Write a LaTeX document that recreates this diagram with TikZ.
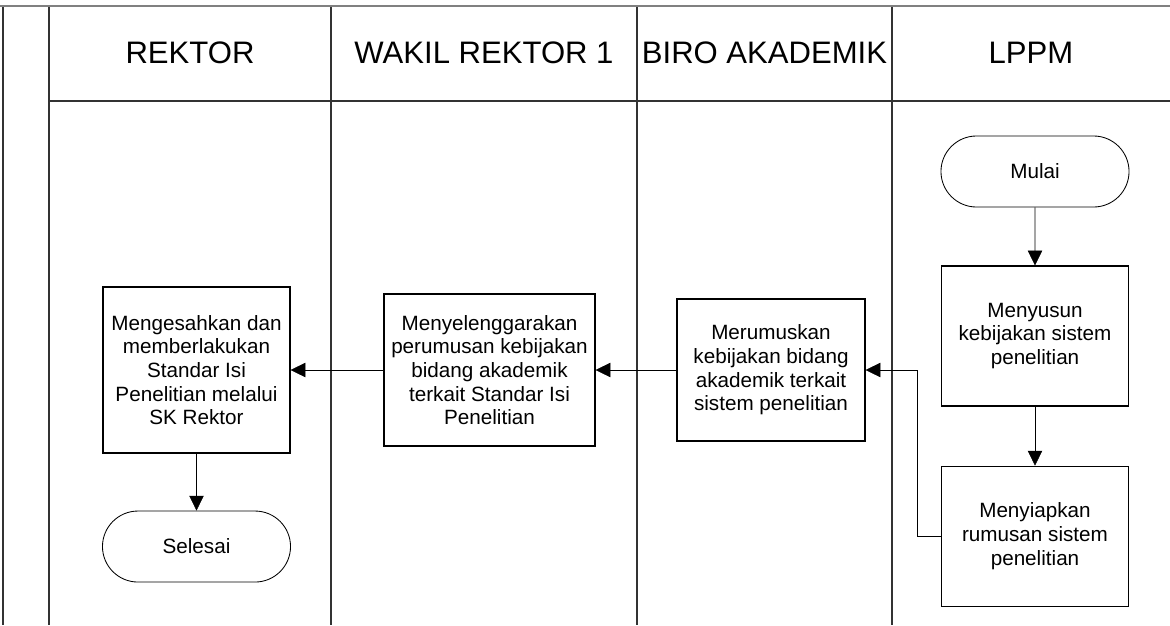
\documentclass[tikz,border=0pt]{standalone}
\usepackage{fontspec}
\setmainfont{Liberation Sans}
\usetikzlibrary{shapes,arrows.meta,positioning}

\begin{document}
\begin{tikzpicture}[
  x=0.025cm, y=-0.025cm,
  lane/.style={draw=black!80, line width=1.2pt},
  head/.style={font=\fontsize{22.1pt}{26pt}\selectfont},
  proc/.style={rectangle, draw, line width=0.8pt, align=center, inner sep=0pt,
    minimum width=4.675cm, minimum height=3.5cm, font=\fontsize{14.7pt}{16.8pt}\selectfont},
  term/.style={rounded rectangle, draw, line width=0.6pt, inner sep=0pt,
    minimum width=4.7cm, minimum height=1.775cm, font=\fontsize{14.7pt}{16.8pt}\selectfont},
  >={Triangle[length=0.37cm, width=0.36cm]}
]
  \useasboundingbox (0,0) rectangle (1170,625);

  % Pool and lanes
  \draw[draw=gray, line width=2pt] (0,6) -- (1170,6);
  \draw[lane] (3,7) -- (3,625);
  \foreach \x in {49,331,637,892}
    \draw[lane] (\x,7) -- (\x,625);
  \draw[lane] (49,101) -- (1170,101);

  % Lane headers
  \node[head] (hRektor) at (190,53) {REKTOR};
  \node[head] (hWarek) at (484,53) {WAKIL REKTOR 1};
  \node[head] (hBiro) at (764.5,53) {BIRO AKADEMIK};
  \node[head] (hLppm) at (1031,53) {LPPM};

  % Steps
  \node[term] (mulai) at (1035,171.5) {Mulai};
  \node[proc, below=1.45cm of mulai] (susun) {Menyusun\\kebijakan sistem\\penelitian};
  \node[proc, below=1.475cm of susun] (siapkan) {Menyiapkan\\rumusan sistem\\penelitian};
  \node[proc, minimum width=4.7cm, minimum height=3.55cm] (rumus) at (771,370)
    {Merumuskan\\kebijakan bidang\\akademik terkait\\sistem penelitian};
  \node[proc, minimum width=5.275cm, minimum height=3.8cm] (selenggara) at (489.5,370)
    {Menyelenggarakan\\perumusan kebijakan\\bidang akademik\\terkait Standar Isi\\Penelitian};
  \node[proc, minimum height=4.15cm] (sah) at (196.5,370)
    {Mengesahkan dan\\memberlakukan\\Standar Isi\\Penelitian melalui\\SK Rektor};
  \node[term, below=1.425cm of sah] (selesai) {Selesai};

  % Flow
  \draw[->] (mulai) -- (susun);
  \draw[->] (susun) -- (siapkan);
  \draw[->] (siapkan.west) -- ++(-24,0) |- (rumus.east);
  \draw[->] (rumus) -- (selenggara);
  \draw[->] (selenggara) -- (sah);
  \draw[->] (sah) -- (selesai);

\end{tikzpicture}
\end{document}
